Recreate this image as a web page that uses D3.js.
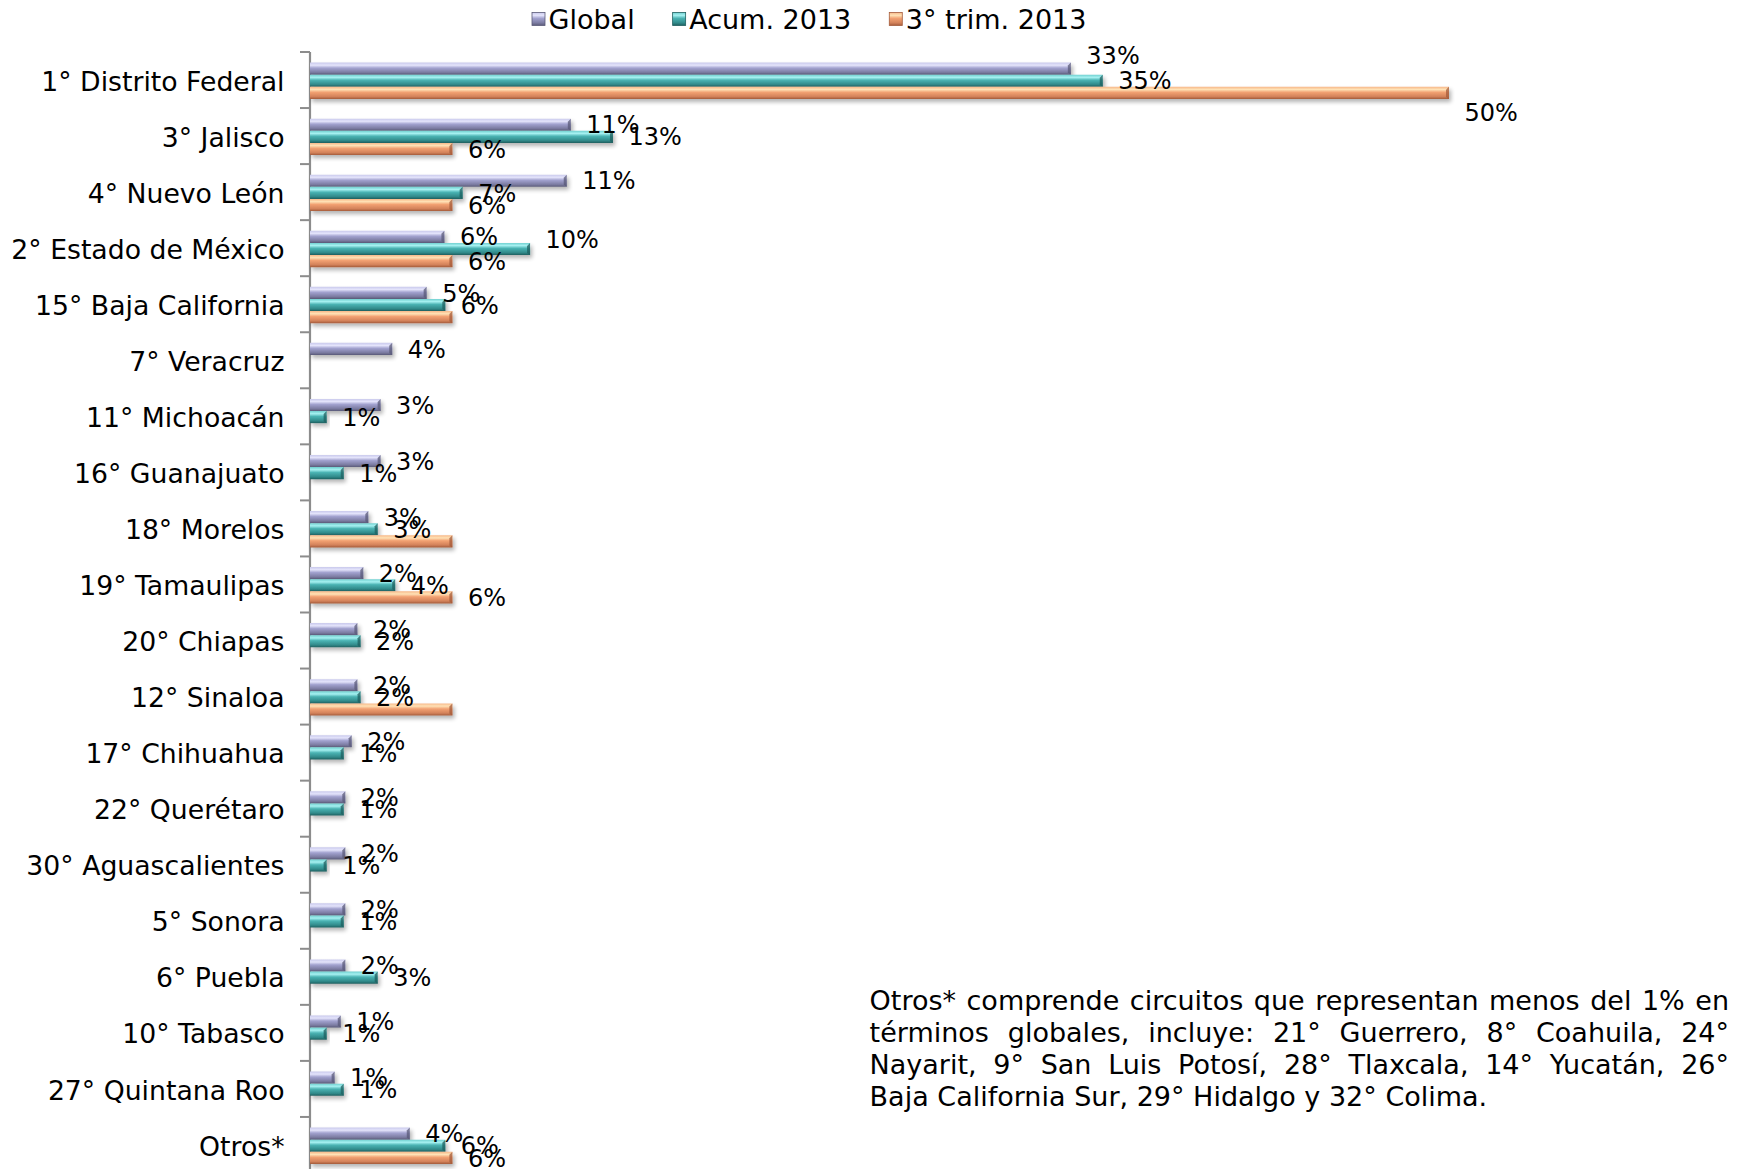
<!DOCTYPE html>
<html><head><meta charset="utf-8">
<script src="https://cdn.jsdelivr.net/npm/d3@7"></script>
<style>
html,body{margin:0;padding:0;background:#fff;}
svg text{font-family:"DejaVu Sans",Verdana,sans-serif;fill:#000;}
</style></head>
<body>
<svg id="chart" width="1748" height="1169"></svg>
<script>
const categories = ["1° Distrito Federal","3° Jalisco","4° Nuevo León","2° Estado de México","15° Baja California","7° Veracruz","11° Michoacán","16° Guanajuato","18° Morelos","19° Tamaulipas","20° Chiapas","12° Sinaloa","17° Chihuahua","22° Querétaro","30° Aguascalientes","5° Sonora","6° Puebla","10° Tabasco","27° Quintana Roo","Otros*"];
const seriesNames = ["Global","Acum. 2013","3° trim. 2013"];
const globalVals = [33.4,11.45,11.27,5.9,5.12,3.61,3.1,3.1,2.56,2.34,2.08,2.08,1.83,1.55,1.55,1.55,1.55,1.35,1.08,4.38];
const acumVals   = [34.8,13.3,6.7,9.66,5.94,null,0.73,1.48,2.97,3.74,2.22,2.22,1.48,1.48,0.73,1.48,2.97,0.73,1.48,5.94];
const trimVals   = [50,6.25,6.25,6.25,6.25,null,null,null,6.25,6.25,null,6.25,null,null,null,null,null,null,null,6.25];
const hiddenLabels = [["15° Baja California","3° trim. 2013"],["18° Morelos","3° trim. 2013"],["12° Sinaloa","3° trim. 2013"]];
const footnoteLines = [
  "Otros* comprende circuitos que representan menos del 1% en",
  "términos globales, incluye: 21° Guerrero, 8° Coahuila, 24°",
  "Nayarit, 9° San Luis Potosí, 28° Tlaxcala, 14° Yucatán, 26°",
  "Baja California Sur, 29° Hidalgo y 32° Colima."
];

// style / layout (not data)
const labelNudge = {"1° Distrito Federal|Global": -13, "1° Distrito Federal|3° trim. 2013": 19.5, "2° Estado de México|Acum. 2013": -10};
const colors = {
  "Global":      ["#c9c9ec","#e4e4fb","#a2a2cf","#7c7ca2","#5a5a78"],
  "Acum. 2013":  ["#6fcfcf","#a6f1f1","#4ab3b3","#318a8a","#1f5f5f"],
  "3° trim. 2013":["#f7b889","#ffe2b6","#f2a172","#d3825a","#a45b3b"]
};

const svg = d3.select("#chart");
svg.append("rect").attr("width",1748).attr("height",1169).attr("fill","#fff");
const defs = svg.append("defs");
const keyOf = s => s.replace(/[^a-z0-9]/gi,"");
seriesNames.forEach(s => {
  const g = defs.append("linearGradient").attr("id","g"+keyOf(s)).attr("x1",0).attr("y1",0).attr("x2",0).attr("y2",1);
  const c = colors[s];
  [[0,c[0]],[0.22,c[1]],[0.45,c[2]],[0.8,c[3]],[1,c[4]]].forEach(([o,col]) => g.append("stop").attr("offset",o).attr("stop-color",col));
});
const f = defs.append("filter").attr("id","shadow").attr("x","-10%").attr("y","-50%").attr("width","130%").attr("height","250%");
f.append("feGaussianBlur").attr("in","SourceAlpha").attr("stdDeviation",2).attr("result","b");
f.append("feOffset").attr("in","b").attr("dx",2).attr("dy",3).attr("result","o");
f.append("feComponentTransfer").attr("in","o").attr("result","oo").append("feFuncA").attr("type","linear").attr("slope",0.3);
const fm = f.append("feMerge"); fm.append("feMergeNode").attr("in","oo"); fm.append("feMergeNode").attr("in","SourceGraphic");

const x = d3.scaleLinear().domain([0,50]).range([310,1449]);
const y0 = d3.scaleBand().domain(categories).range([52, 52 + 20*56.05]).paddingInner(0).paddingOuter(0);
const y1 = d3.scaleBand().domain(seriesNames).range([10.6, 47]);

const valuesBySeries = {"Global": globalVals, "Acum. 2013": acumVals, "3° trim. 2013": trimVals};
const rows = [];
categories.forEach((c,i) => seriesNames.forEach(s => {
  const v = valuesBySeries[s][i];
  if (v != null) rows.push({cat:c, series:s, value:v});
}));

// axis
const yAxis = d3.axisLeft(y0).tickSize(0).tickFormat("");
const axisG = svg.append("g").attr("transform","translate(310,0)").call(yAxis);
axisG.select(".domain").attr("stroke","#8c8c8c").attr("stroke-width",2.2).attr("d","M0,52V1180");
const bounds = categories.map(c => y0(c)).concat([y0(categories[categories.length-1]) + y0.bandwidth()]);
axisG.selectAll(".bt").data(bounds).join("line").attr("class","bt")
  .attr("x1",-10).attr("x2",0).attr("y1",d=>d).attr("y2",d=>d).attr("stroke","#8c8c8c").attr("stroke-width",2);

// category labels
svg.append("g").selectAll("text").data(categories).join("text")
  .attr("x",284.5).attr("y",d => y0(d) + y0.bandwidth()/2 + 1).attr("dy","0.36em")
  .attr("text-anchor","end").style("font-size","26.7px").text(d=>d);

// bars
const barH = y1.bandwidth();
const bars = svg.append("g").selectAll("g.bar").data(rows).join("g").attr("class","bar").attr("filter","url(#shadow)");
bars.append("path")
  .attr("d", d => {
    const x0 = x(0), x1 = x(d.value), yt = y0(d.cat) + y1(d.series), h = barH;
    return `M${x0},${yt}H${x1}V${yt+h}H${x0}Z`;
  })
  .attr("fill", d => "url(#g"+keyOf(d.series)+")");
bars.append("path")
  .attr("d", d => {
    const x1 = x(d.value), yt = y0(d.cat) + y1(d.series), h = barH, b = Math.min(3, x1 - x(0));
    return `M${x1-b},${yt+3}L${x1},${yt}V${yt+h}L${x1-b},${yt+h-2}Z`;
  })
  .attr("fill", d => colors[d.series][4]).attr("opacity",0.75);

// data labels
const fmt = v => d3.format(".0f")(v) + "%";
const isHidden = d => hiddenLabels.some(h => h[0]===d.cat && h[1]===d.series);
svg.append("g").selectAll("text").data(rows.filter(d => !isHidden(d))).join("text")
  .attr("x", d => x(d.value) + 15.5)
  .attr("y", d => y0(d.cat) + y1(d.series) + barH/2 + (labelNudge[d.cat+"|"+d.series] || 0))
  .attr("dy","0.36em").style("font-size","24px").text(d => fmt(d.value));

// legend
const leg = svg.append("g");
let lx = 532;
seriesNames.forEach(s => {
  leg.append("rect").attr("x",lx).attr("y",12.5).attr("width",13).attr("height",13)
    .attr("fill","url(#g"+keyOf(s)+")").attr("stroke",colors[s][4]).attr("stroke-width",0.8);
  const t = leg.append("text").attr("x",lx+16.5).attr("y",19).attr("dy","0.36em").style("font-size","27px").text(s);
  lx = lx + 16.5 + t.node().getComputedTextLength() + 38;
});

// footnote (justified)
const fnLeft = 869.6, fnRight = 1729, fnSize = 27;
const fnCenters = [1000.5, 1032, 1064, 1096];
const fn = svg.append("g");
const spaceW = (() => { const t = fn.append("text").style("font-size",fnSize+"px").text("a a"); const a = fn.append("text").style("font-size",fnSize+"px").text("aa"); const r = t.node().getComputedTextLength() - a.node().getComputedTextLength(); t.remove(); a.remove(); return r; })();
footnoteLines.forEach((line, li) => {
  const words = line.split(" ");
  const justify = li < footnoteLines.length - 1;
  const ws = words.map(w => {
    const t = fn.append("text").style("font-size",fnSize+"px").attr("y",fnCenters[li]).attr("dy","0.36em").text(w);
    return {t, w: t.node().getComputedTextLength()};
  });
  const total = d3.sum(ws, d => d.w);
  const gap = justify ? (fnRight - fnLeft - total) / (ws.length - 1) : spaceW;
  let cx = fnLeft;
  ws.forEach(d => { d.t.attr("x", cx); cx += d.w + gap; });
});
</script>
</body></html>
